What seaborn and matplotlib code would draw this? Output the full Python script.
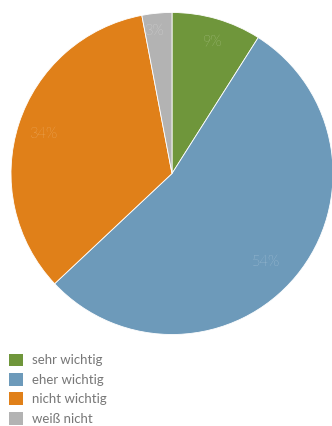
import matplotlib
matplotlib.use("Agg")
import numpy as np
import matplotlib.pyplot as plt
from matplotlib.patches import Patch
import seaborn as sns

# Survey answers and their shares (percent)
categories = ["sehr wichtig", "eher wichtig", "nicht wichtig", "weiß nicht"]
shares = [9, 54, 34, 3]
slice_colors = ["#6f963b", "#6d9aba", "#e08019", "#b3b3b3"]
label_colors = ["#d2dfb9", "#cfdeea", "#f7cd9c", "#ececec"]

# Radial distance and angular nudge (degrees) of each percentage label
label_radius = [0.86, 0.80, 0.83, 0.89]
label_nudge = [-1.0, -3.5, 1.0, 1.5]

sns.set_theme(style="white")
plt.rcParams["font.family"] = ["Lato", "DejaVu Sans"]

palette = sns.color_palette(slice_colors)

fig = plt.figure(figsize=(3.32, 4.26), dpi=100)
ax = fig.add_axes([11 / 332, (426 - 335) / 426, 322 / 332, 323 / 426])

wedges, texts, autotexts = ax.pie(
    shares,
    colors=palette,
    startangle=90,
    counterclock=False,
    radius=1.0,
    autopct=lambda p: f"{p:.0f}%",
    pctdistance=0.85,
    wedgeprops=dict(edgecolor="white", linewidth=0.6),
)
for w, t, c, r, d in zip(wedges, autotexts, label_colors, label_radius, label_nudge):
    mid = np.deg2rad((w.theta1 + w.theta2) / 2 + d)
    t.set_position((r * np.cos(mid), r * np.sin(mid)))
    t.set_color(c)
    t.set_fontsize(10.5)
    t.set_fontweight("light")
ax.set_xlim(-1, 1)
ax.set_ylim(-1, 1)
ax.set_aspect("equal")
ax.axis("off")

handles = [Patch(facecolor=c, edgecolor="none") for c in palette]
fig.legend(
    handles,
    categories,
    loc="upper left",
    bbox_to_anchor=(6 / 332, 1 - 351 / 426),
    frameon=False,
    fontsize=9.5,
    labelcolor="#777777",
    handlelength=1.1,
    handleheight=1.1,
    handletextpad=0.65,
    labelspacing=0.5,
    borderaxespad=0.0,
    borderpad=0.2,
)

fig.savefig("out.png", dpi=100)
